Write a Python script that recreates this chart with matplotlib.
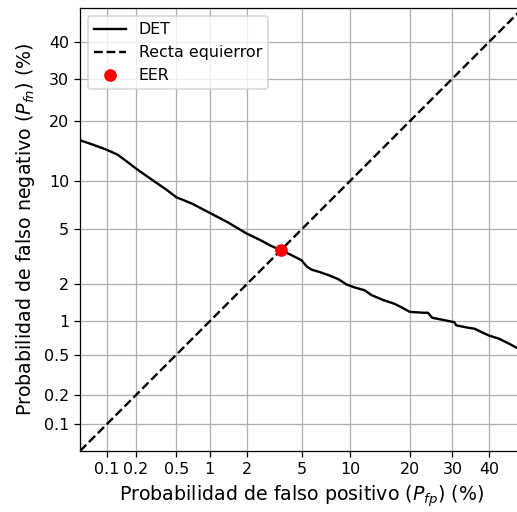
from statistics import NormalDist
import numpy as np
import matplotlib
matplotlib.use("Agg")
import matplotlib.pyplot as plt
from matplotlib.ticker import NullLocator

# DET curve points (percent)
fp = [0.05, 0.07, 0.1, 0.13, 0.17, 0.2, 0.3, 0.4, 0.5, 0.7, 1.0, 1.4, 2.0, 2.6,
      3.0, 3.6, 4.2, 5.0, 5.4, 5.8, 6.5, 7.5, 8.5, 9.5, 10.5, 12, 13, 15, 17,
      18.5, 20, 23, 24, 25, 28, 30.5, 31, 34, 36, 38, 40, 43, 46, 48.6, 50]
fn = [16.3, 15.5, 14.6, 13.8, 12.5, 11.7, 10.0, 8.9, 8.0, 7.3, 6.4, 5.6, 4.7, 4.2,
      3.9, 3.6, 3.35, 3.05, 2.75, 2.6, 2.5, 2.35, 2.2, 2.0, 1.9, 1.8, 1.65, 1.5, 1.4,
      1.3, 1.2, 1.18, 1.18, 1.07, 1.02, 0.98, 0.92, 0.88, 0.86, 0.8, 0.75, 0.7, 0.63,
      0.57, 0.55]
eer = 3.6
diag = [0.05, 50]
ticks = [0.1, 0.2, 0.5, 1, 2, 5, 10, 20, 30, 40]
tick_labels = ["0.1", "0.2", "0.5", "1", "2", "5", "10", "20", "30", "40"]

nd = NormalDist()
_ppf = np.vectorize(lambda p: nd.inv_cdf(min(max(p / 100.0, 1e-9), 1 - 1e-9)),
                    otypes=[float])
_cdf = np.vectorize(lambda z: nd.cdf(z) * 100.0, otypes=[float])

def fwd(x):
    return _ppf(np.asarray(x, dtype=float))

def inv(z):
    return _cdf(np.asarray(z, dtype=float))

dpi = 114
fig = plt.figure(figsize=(517 / dpi, 512 / dpi), dpi=dpi)
ax = fig.add_axes([80 / 517, 61 / 512, 443 / 517, 443 / 512])
ax.set_xscale("function", functions=(fwd, inv))
ax.set_yscale("function", functions=(fwd, inv))

ax.plot(fp, fn, color="black", linewidth=1.5, label="DET")
ax.plot(diag, diag, "k--", linewidth=1.5, label="Recta equierror")
ax.plot([eer], [eer], "o", color="red", markersize=7, label="EER")

ax.set_xlim(0.05, 50)
ax.set_ylim(0.05, 50)
ax.set_xticks(ticks)
ax.set_xticklabels(tick_labels)
ax.set_yticks(ticks)
ax.set_yticklabels(tick_labels)
ax.xaxis.set_minor_locator(NullLocator())
ax.yaxis.set_minor_locator(NullLocator())
ax.grid(True)
ax.set_xlabel("Probabilidad de falso positivo ($P_{fp}$) (%)", fontsize=12)
ax.set_ylabel("Probabilidad de falso negativo ($P_{fn}$) (%)", fontsize=12)
ax.legend(loc="upper left")

fig.savefig("out.png", dpi=dpi)
